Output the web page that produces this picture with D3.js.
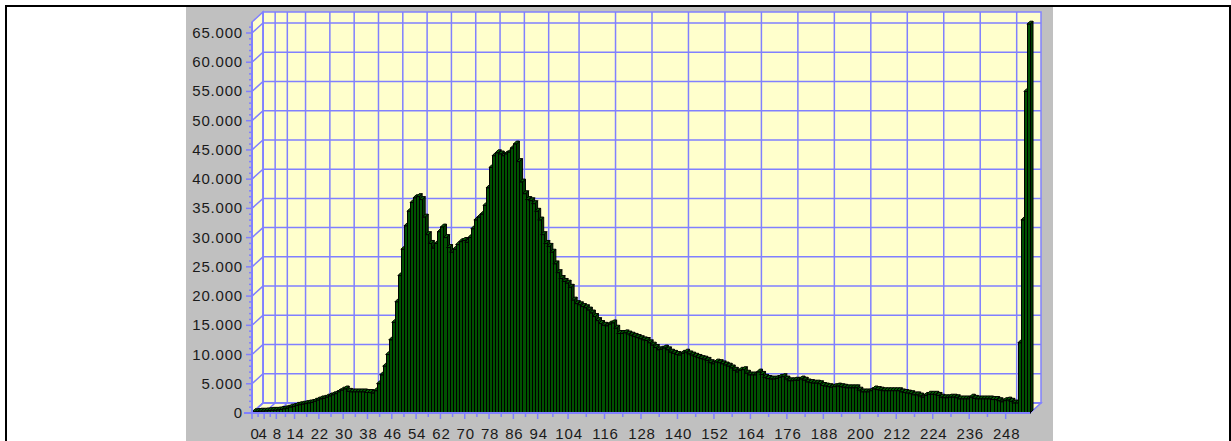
<!DOCTYPE html>
<html>
<head>
<meta charset="utf-8">
<script src="https://cdn.jsdelivr.net/npm/d3@7"></script>
<style>
  html, body { margin: 0; padding: 0; background: #fff; }
  svg { display: block; }
  .lbl { font-family: "Liberation Sans", Arial, sans-serif; font-size: 15px; fill: #1a1a1a; letter-spacing: 0.8px; }
</style>
</head>
<body>
<div id="chart"></div>
<script>
// histogram counts, bins 0..255
var counts = [
  200, 250, 300, 300, 350, 400, 450, 450, 500, 600, 700, 800, 1000, 1100, 1300, 1400,
  1500, 1600, 1700, 1800, 2000, 2200, 2400, 2500, 2700, 2900, 3100, 3300, 3600, 3900, 4100, 3700,
  3600, 3600, 3600, 3600, 3600, 3500, 3500, 3400, 3800, 5000, 6500, 8000, 10000, 12500, 15500, 19000,
  23500, 28000, 32000, 34500, 36000, 36800, 37000, 36500, 33500, 30500, 29000, 28200, 29000, 31000, 31800, 30000,
  28300, 27500, 28000, 28800, 29300, 29500, 29200, 30000, 31500, 33000, 33500, 34000, 35500, 38500, 42000, 44000,
  44500, 44300, 44000, 44300, 44600, 45300, 46000, 43000, 39500, 37500, 36500, 36300, 35800, 34500, 33000, 30500,
  29000, 28500, 27500, 25500, 24000, 23000, 22500, 22200, 21500, 19300, 18700, 18500, 18200, 18000, 17600, 17100,
  16500, 15800, 15300, 15000, 14900, 15200, 15400, 14500, 13600, 13600, 13700, 13500, 13300, 13100, 12900, 12700,
  12500, 12400, 12000, 11600, 11200, 10800, 10900, 11100, 10800, 10400, 10200, 10000, 9900, 10200, 10400, 10100,
  9900, 9700, 9500, 9300, 9200, 9000, 8600, 8400, 8700, 8600, 8400, 8200, 8000, 7700, 7300, 7000,
  7300, 7400, 6800, 6500, 6500, 6500, 7000, 6600, 6100, 5900, 5800, 5800, 5900, 6100, 6200, 5800,
  5500, 5500, 5600, 5600, 5800, 5600, 5300, 5200, 5100, 5100, 5000, 4700, 4600, 4500, 4400, 4500,
  4600, 4500, 4400, 4300, 4300, 4300, 4300, 3900, 3600, 3600, 3600, 3800, 4100, 4000, 3900, 3800,
  3800, 3800, 3800, 3800, 3800, 3600, 3500, 3400, 3300, 3100, 3100, 2900, 2700, 3000, 3200, 3200,
  3200, 3000, 2700, 2600, 2600, 2700, 2700, 2600, 2400, 2400, 2400, 2400, 2700, 2500, 2400, 2400,
  2400, 2400, 2400, 2300, 2300, 2100, 1900, 2100, 2200, 2000, 1700, 1700, 12000, 33000, 55000, 66500
];

// labelled bins on the x axis
var xTickBins = [0, 4, 8, 14, 22, 30, 38, 46, 54, 62, 70, 78, 86, 94, 104, 116, 128, 140, 152, 164, 176, 188, 200, 212, 224, 236, 248];
var yTickValues = [0, 5000, 10000, 15000, 20000, 25000, 30000, 35000, 40000, 45000, 50000, 55000, 60000, 65000];

var width = 1231, height = 441;
var depth = { dx: 11, dy: -10 };   // 3d offset of back wall
var barDepth = 3;

var grid = "#8080ff";
var wall = "#ffffcc";

var x = d3.scaleLinear().domain([0, 256]).range([252, 1030]);
var y = d3.scaleLinear().domain([0, 66880]).range([413, 22]);

var fmt = d3.formatLocale({ decimal: ",", thousands: ".", grouping: [3], currency: ["", ""] }).format(",d");

var svg = d3.select("#chart").append("svg")
    .attr("width", width)
    .attr("height", height);

// page frame
svg.append("rect").attr("x", 5).attr("y", 5).attr("width", 1226).attr("height", 2).attr("fill", "#000");
svg.append("rect").attr("x", 5).attr("y", 5).attr("width", 2).attr("height", 436).attr("fill", "#000");
svg.append("rect").attr("x", 1229).attr("y", 5).attr("width", 2).attr("height", 436).attr("fill", "#000");

// grey panel
svg.append("rect").attr("x", 186).attr("y", 7).attr("width", 867).attr("height", 434).attr("fill", "#c0c0c0");

var x0 = x(0), x1 = x(256), yb = y(0), yt = y.range()[1];
var dx = depth.dx, dy = depth.dy;

var pts = p => p.map(d => d.join(",")).join(" ");

// back wall
svg.append("rect")
    .attr("x", x0 + dx).attr("y", yt + dy)
    .attr("width", x1 - x0).attr("height", yb - yt)
    .attr("fill", wall).attr("stroke", grid).attr("stroke-width", 1.5);

// side wall
svg.append("polygon")
    .attr("points", pts([[x0, yb], [x0, yt], [x0 + dx, yt + dy], [x0 + dx, yb + dy]]))
    .attr("fill", wall).attr("stroke", grid).attr("stroke-width", 1.5);

// floor
svg.append("polygon")
    .attr("points", pts([[x0, yb], [x1, yb], [x1 + dx, yb + dy], [x0 + dx, yb + dy]]))
    .attr("fill", wall).attr("stroke", grid).attr("stroke-width", 1.5);

// horizontal grid on back wall + side wall
svg.append("g").selectAll("polyline")
    .data(yTickValues)
    .enter()
    .append("polyline")
    .attr("points", d => pts([[x0, y(d)], [x0 + dx, y(d) + dy], [x1 + dx, y(d) + dy]]))
    .attr("fill", "none").attr("stroke", grid).attr("stroke-width", 1.5);

// vertical grid on back wall + floor
svg.append("g").selectAll("polyline")
    .data(xTickBins)
    .enter()
    .append("polyline")
    .attr("points", d => pts([[x(d), yb], [x(d) + dx, yb + dy], [x(d) + dx, yt + dy]]))
    .attr("fill", "none").attr("stroke", grid).attr("stroke-width", 1.5);

// bars (side, top, front face)
var bw = x(1) - x(0);
var bars = svg.append("g").attr("stroke", "#000").attr("stroke-width", 1);
counts.forEach(function (v, i) {
    var bx = x(i), by = y(v);
    var g = bars.append("g");
    g.append("polygon")
        .attr("points", pts([[bx + bw, by], [bx + bw + barDepth, by - barDepth], [bx + bw + barDepth, yb - barDepth], [bx + bw, yb]]))
        .attr("fill", "#003c00");
    g.append("polygon")
        .attr("points", pts([[bx, by], [bx + barDepth, by - barDepth], [bx + bw + barDepth, by - barDepth], [bx + bw, by]]))
        .attr("fill", "#006000");
    g.append("rect")
        .attr("x", Math.round(bx) + 0.5).attr("y", by)
        .attr("width", Math.round(bx + bw) - Math.round(bx)).attr("height", yb - by)
        .attr("fill", "#005200");
});

// front axes
svg.append("line").attr("x1", x0).attr("x2", x0).attr("y1", yt).attr("y2", yb)
    .attr("stroke", grid).attr("stroke-width", 2);
svg.append("line").attr("x1", x0 - 8).attr("x2", x1).attr("y1", yb).attr("y2", yb)
    .attr("stroke", grid).attr("stroke-width", 2);

// y ticks
var yMinor = d3.range(0, 67000, 1000);
svg.append("g").selectAll("line")
    .data(yMinor)
    .enter()
    .append("line")
    .attr("x1", d => d % 5000 === 0 ? x0 - 6 : x0 - 3).attr("x2", x0)
    .attr("y1", d => y(d)).attr("y2", d => y(d))
    .attr("stroke", grid).attr("stroke-width", 1.5);

svg.append("g").selectAll("text")
    .data(yTickValues)
    .enter()
    .append("text")
    .attr("class", "lbl")
    .attr("x", 243)
    .attr("y", d => y(d) + 5)
    .attr("text-anchor", "end")
    .text(d => fmt(d));

// x ticks
var xMinor = [];
for (var k = 0; k < xTickBins.length - 1; k++) xMinor.push((xTickBins[k] + xTickBins[k + 1]) / 2);
svg.append("g").selectAll("line.major")
    .data(xTickBins)
    .enter()
    .append("line")
    .attr("x1", d => x(d)).attr("x2", d => x(d))
    .attr("y1", yb).attr("y2", yb + 6)
    .attr("stroke", grid).attr("stroke-width", 1.5);
svg.append("g").selectAll("line.minor")
    .data(xMinor)
    .enter()
    .append("line")
    .attr("x1", d => x(d)).attr("x2", d => x(d))
    .attr("y1", yb).attr("y2", yb + 4)
    .attr("stroke", grid).attr("stroke-width", 1.5);

svg.append("g").selectAll("text")
    .data(xTickBins)
    .enter()
    .append("text")
    .attr("class", "lbl")
    .attr("x", d => d === 0 ? x(d) + 3 : d === 4 ? x(d) - 1 : x(d) + 1)
    .attr("y", 439)
    .attr("text-anchor", "middle")
    .text(d => d);
</script>
</body>
</html>
